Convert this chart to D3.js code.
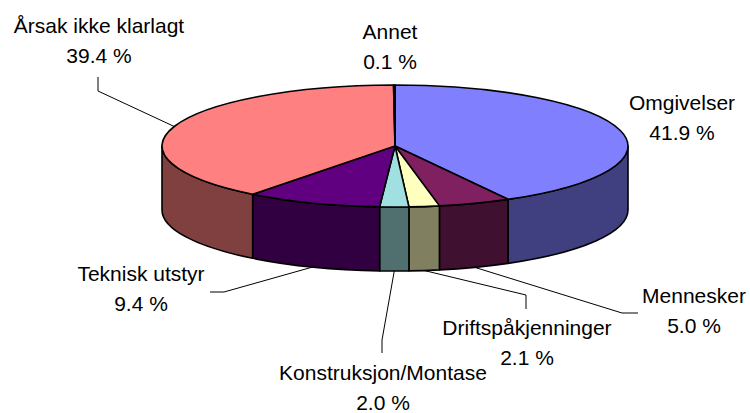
<!DOCTYPE html>
<meta charset="utf-8">
<style>
  body { margin: 0; background: #fff; }
  .lbl { font: 21px "Liberation Sans", Arial, sans-serif; fill: #000; }
  .leader { fill: none; stroke: #000; stroke-width: 1; }
</style>
<body>
<script src="https://cdnjs.cloudflare.com/ajax/libs/d3/7.8.5/d3.min.js"></script>
<script>
// data
var categories = ["Omgivelser", "Mennesker", "Driftspåkjenninger", "Konstruksjon/Montase",
                  "Teknisk utstyr", "Årsak ikke klarlagt", "Annet"];
var values = [41.9, 5.0, 2.1, 2.0, 9.4, 39.4, 0.1];
var valueLabels = ["41.9 %", "5.0 %", "2.1 %", "2.0 %", "9.4 %", "39.4 %", "0.1 %"];
var colors = ["#8080ff", "#802060", "#ffffc0", "#a0e0e0", "#600080", "#ff8080", "#0070c0"];

var width = 750, height = 413;
var cx = 395, cy = 146, rx = 233, ry = 61, depth = 64;

// label placement: text centre x, first baseline y, leader elbow (null = no leader)
var labelPos = {
  "Omgivelser":          {x: 682, y: 110, elbow: null},
  "Mennesker":           {x: 694, y: 303, elbow: [[638, 313], [622, 313]]},
  "Driftspåkjenninger":  {x: 527, y: 335, elbow: [[526, 309], [526, 295]]},
  "Konstruksjon/Montase":{x: 383, y: 380, elbow: [[382, 353], [382, 340]]},
  "Teknisk utstyr":      {x: 141, y: 281, elbow: [[210, 292], [224, 292]]},
  "Årsak ikke klarlagt": {x: 99,  y: 33,  elbow: [[98, 77], [98, 91]]},
  "Annet":               {x: 390, y: 39,  elbow: null}
};

var svg = d3.select("body").append("svg")
  .attr("width", width)
  .attr("height", height);

var color = d3.scaleOrdinal().domain(categories).range(colors);

var pie = d3.pie().sort(null).value(function(d, i) { return values[i]; });
var arcs = pie(categories);

function pt(a, dy) {
  return [cx + rx * Math.sin(a), cy - ry * Math.cos(a) + (dy || 0)];
}

function topPath(d) {
  var p0 = pt(d.startAngle), p1 = pt(d.endAngle);
  var large = (d.endAngle - d.startAngle) > Math.PI ? 1 : 0;
  return "M" + cx + "," + cy + "L" + p0 + "A" + rx + "," + ry + " 0 " + large + " 1 " + p1 + "Z";
}

function sidePath(d) {
  var s0 = Math.max(d.startAngle, Math.PI / 2),
      s1 = Math.min(d.endAngle, 3 * Math.PI / 2);
  if (s1 <= s0) return null;
  var a = pt(s0), b = pt(s1), c = pt(s1, depth), e = pt(s0, depth);
  return "M" + a + "A" + rx + "," + ry + " 0 0 1 " + b + "L" + c +
    "A" + rx + "," + ry + " 0 0 0 " + e + "Z";
}

function darken(c) {
  var r = d3.rgb(c);
  return d3.rgb(r.r * 0.5, r.g * 0.5, r.b * 0.5).formatHex();
}

// sides
svg.append("g").selectAll("path")
  .data(arcs.filter(function(d) { return sidePath(d); }))
  .join("path")
  .attr("d", sidePath)
  .attr("fill", function(d) { return darken(color(d.data)); })
  .attr("stroke", "#000")
  .attr("stroke-width", 1.6)
  .attr("stroke-linejoin", "round");

// tops
svg.append("g").selectAll("path")
  .data(arcs)
  .join("path")
  .attr("d", topPath)
  .attr("fill", function(d) { return color(d.data); })
  .attr("stroke", "#000")
  .attr("stroke-width", 1.6)
  .attr("stroke-linejoin", "round");

// leader lines
arcs.forEach(function(d) {
  var lp = labelPos[d.data];
  if (!lp.elbow) return;
  var mid = (d.startAngle + d.endAngle) / 2;
  var front = mid > Math.PI / 2 && mid < 3 * Math.PI / 2;
  var end = pt(mid, front ? depth : 0);
  var pts = lp.elbow.concat([end]);
  svg.append("path")
    .attr("class", "leader")
    .attr("d", d3.line()(pts));
});

// labels
arcs.forEach(function(d, i) {
  var lp = labelPos[d.data];
  var t = svg.append("text")
    .attr("class", "lbl")
    .attr("text-anchor", "middle")
    .attr("x", lp.x)
    .attr("y", lp.y);
  t.append("tspan").attr("x", lp.x).text(d.data);
  t.append("tspan").attr("x", lp.x).attr("dy", 30).text(valueLabels[d.index]);
});
</script>
</body>
